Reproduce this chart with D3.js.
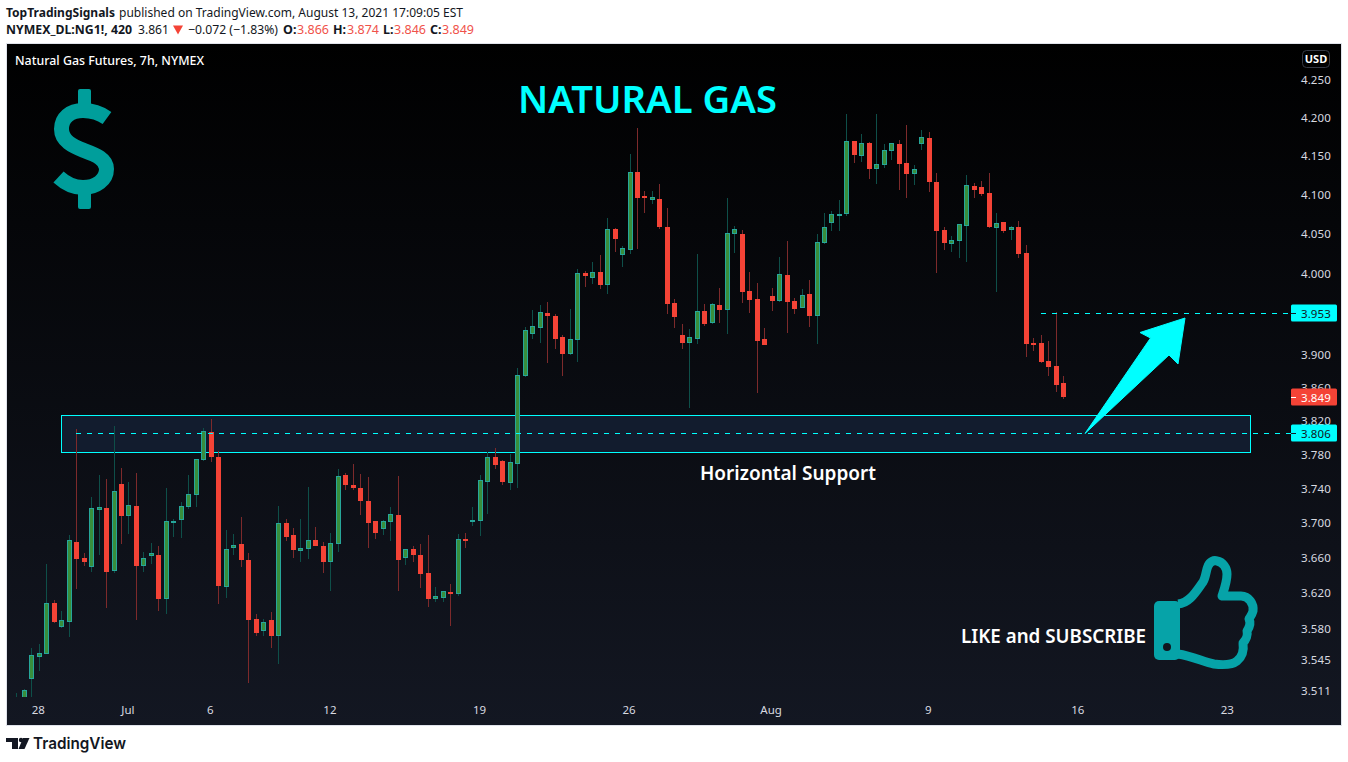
<!DOCTYPE html>
<html><head><meta charset="utf-8">
<script src="https://cdn.jsdelivr.net/npm/d3@7/dist/d3.min.js"></script>
<style>html,body{margin:0;padding:0;background:#fff;overflow:hidden}svg{display:block}text{font-family:"Noto Sans",sans-serif}</style>
</head><body><svg id="c" width="1348" height="762"></svg>
<script>
const open=[3.501,3.501,3.524,3.549,3.552,3.609,3.582,3.587,3.678,3.660,3.650,3.715,3.718,3.645,3.746,3.708,3.720,3.651,3.662,3.664,3.613,3.702,3.704,3.719,3.733,3.774,3.807,3.778,3.627,3.672,3.676,3.658,3.591,3.578,3.590,3.572,3.700,3.686,3.668,3.670,3.681,3.674,3.656,3.676,3.756,3.745,3.741,3.726,3.703,3.693,3.701,3.710,3.660,3.670,3.664,3.643,3.614,3.615,3.621,3.619,3.682,3.703,3.703,3.748,3.777,3.773,3.747,3.769,3.874,3.926,3.933,3.952,3.948,3.922,3.901,3.918,4.001,3.995,4.002,3.986,4.057,4.024,4.030,4.130,4.099,4.094,4.095,4.059,3.964,3.924,3.915,3.920,3.954,3.939,3.961,3.955,4.050,4.050,3.979,3.969,3.920,3.973,3.966,3.999,3.966,3.958,3.975,3.948,4.039,4.064,4.073,4.076,4.170,4.150,4.167,4.133,4.139,4.157,4.166,4.141,4.127,4.166,4.174,4.117,4.055,4.038,4.041,4.060,4.112,4.110,4.102,4.058,4.066,4.055,4.059,4.026,3.915,3.915,3.892,3.886,3.866];
const high=[3.509,3.513,3.559,3.563,3.653,3.612,3.600,3.686,3.811,3.666,3.731,3.756,3.752,3.814,3.764,3.748,3.759,3.667,3.677,3.674,3.741,3.705,3.725,3.756,3.775,3.812,3.823,3.785,3.692,3.688,3.707,3.666,3.597,3.591,3.599,3.720,3.705,3.695,3.705,3.742,3.696,3.678,3.689,3.763,3.759,3.769,3.757,3.754,3.703,3.704,3.719,3.755,3.670,3.674,3.676,3.686,3.627,3.623,3.630,3.688,3.689,3.719,3.756,3.783,3.788,3.774,3.781,3.884,3.934,3.955,3.961,3.965,3.950,3.924,3.956,4.006,4.004,4.015,4.024,4.071,4.058,4.035,4.153,4.187,4.105,4.105,4.114,4.083,3.969,3.938,3.932,4.025,3.963,3.964,3.983,4.096,4.060,4.055,4.002,3.989,3.933,3.983,4.021,4.041,3.970,3.981,3.993,4.050,4.077,4.080,4.093,4.205,4.170,4.179,4.168,4.205,4.166,4.167,4.171,4.191,4.139,4.184,4.182,4.128,4.059,4.048,4.063,4.126,4.115,4.118,4.128,4.077,4.066,4.060,4.067,4.036,3.921,3.924,3.917,3.953,3.874];
const low=[3.499,3.499,3.504,3.533,3.552,3.586,3.581,3.571,3.625,3.651,3.644,3.663,3.603,3.643,3.676,3.688,3.590,3.644,3.653,3.600,3.597,3.684,3.683,3.717,3.719,3.773,3.771,3.608,3.615,3.664,3.650,3.520,3.572,3.572,3.558,3.541,3.679,3.660,3.656,3.659,3.674,3.643,3.622,3.667,3.739,3.739,3.710,3.672,3.682,3.686,3.679,3.623,3.652,3.656,3.626,3.604,3.610,3.610,3.583,3.617,3.672,3.697,3.685,3.711,3.763,3.745,3.739,3.741,3.873,3.920,3.915,3.890,3.907,3.874,3.900,3.891,3.984,3.988,3.981,3.975,4.028,4.009,4.025,4.031,4.077,4.089,4.057,3.950,3.933,3.907,3.836,3.913,3.936,3.938,3.939,3.926,4.026,3.964,3.952,3.854,3.912,3.954,3.965,3.927,3.950,3.958,3.934,3.913,4.038,4.054,4.054,4.073,4.141,4.143,4.120,4.114,4.135,4.145,4.106,4.096,4.113,4.158,4.104,4.001,4.030,4.028,4.020,4.015,4.096,4.099,4.058,3.978,4.052,4.043,4.020,3.898,3.905,3.890,3.874,3.855,3.846];
const close=[3.503,3.512,3.551,3.553,3.609,3.588,3.590,3.681,3.659,3.656,3.718,3.719,3.644,3.738,3.708,3.721,3.651,3.660,3.666,3.614,3.703,3.703,3.720,3.734,3.775,3.808,3.778,3.628,3.670,3.675,3.658,3.590,3.575,3.588,3.572,3.700,3.684,3.669,3.671,3.681,3.674,3.656,3.677,3.755,3.745,3.741,3.726,3.700,3.689,3.703,3.711,3.658,3.670,3.663,3.642,3.613,3.617,3.622,3.619,3.682,3.679,3.704,3.750,3.777,3.768,3.748,3.771,3.876,3.931,3.936,3.953,3.948,3.920,3.901,3.920,4.001,3.998,4.002,3.986,4.057,4.044,4.033,4.130,4.096,4.096,4.097,4.059,3.963,3.947,3.915,3.922,3.954,3.938,3.963,3.955,4.052,4.057,3.978,3.968,3.917,3.912,3.966,4.000,3.965,3.956,3.974,3.948,4.040,4.059,4.076,4.076,4.170,4.152,4.167,4.133,4.140,4.158,4.167,4.140,4.127,4.133,4.175,4.117,4.054,4.039,4.043,4.063,4.113,4.106,4.101,4.059,4.064,4.054,4.059,4.025,3.913,3.912,3.891,3.885,3.864,3.849];
const priceTicks=[4.25,4.2,4.15,4.1,4.05,4,3.9,3.86,3.82,3.78,3.74,3.7,3.66,3.62,3.58,3.545,3.511];
const timeTickIndex=[3,15,26,42,62,82,101,122,142,162];
const timeTickLabels=["28","Jul","6","12","19","26","Aug","9","16","23"];
const supportBand=[3.827,3.783];
const supportLevel=3.806,targetLevel=3.952,lastClose=3.849;

const svg=d3.select("#c");
const W=1348,H=762;
const defs=svg.append("defs");
const g=defs.append("linearGradient").attr("id","bg").attr("x1",0).attr("x2",0).attr("y1",0).attr("y2",1);
g.append("stop").attr("offset","0").attr("stop-color","#000000");
g.append("stop").attr("offset","1").attr("stop-color","#131722");
defs.append("clipPath").attr("id","pane").append("rect").attr("x",7).attr("y",44).attr("width",1284).attr("height",653);

svg.append("rect").attr("width",W).attr("height",H).attr("fill","#fff");
svg.append("rect").attr("x",6.5).attr("y",43.5).attr("width",1335).attr("height",682).attr("fill","url(#bg)").attr("stroke","#e0e3eb");

const x=d3.scaleLinear().domain([0,140]).range([16.3,1063.3]);
const y=d3.scaleLog().domain([3.511,4.25]).range([691,80]);
const px=v=>Math.round(v);

function t(sel,s,X,Y,o={}){const e=sel.append("text").attr("x",X).attr("y",Y).text(s)
 .attr("font-size",o.size||12.5).attr("fill",o.fill||"#131722").attr("font-weight",o.w||400);
 if(o.font)e.style("font-family",o.font);if(o.anchor)e.attr("text-anchor",o.anchor);if(o.ls)e.attr("letter-spacing",o.ls);if(o.len)e.attr("textLength",o.len).attr("lengthAdjust","spacingAndGlyphs");return e;}
const hdr=svg.append("g");
t(hdr,"TopTradingSignals",6,17,{w:700,len:109});
t(hdr,"published on TradingView.com, August 13, 2021 17:09:05 EST",119,17,{len:344});
t(hdr,"NYMEX_DL:NG1!, 420",6,34,{w:700,len:126});
t(hdr,"3.861",138,34,{len:31});
hdr.append("path").attr("d","M173 25.5H183L178 34.5Z").attr("fill","#f44336");
t(hdr,"−0.072 (−1.83%)",188,34,{len:90});
[["O:",283,"3.866",297],["H:",333,"3.874",347],["L:",383,"3.846",394],["C:",430,"3.849",442]].forEach(a=>{
 t(hdr,a[0],a[1],34,{w:700});t(hdr,a[2],a[3],34,{fill:"#f0524a",len:32});});

const band=svg.append("g");
band.append("rect").attr("x",61.5).attr("y",px(y(supportBand[0]))+.5).attr("width",1189).attr("height",px(y(supportBand[1]))-px(y(supportBand[0])))
 .attr("fill","#121c2e").attr("stroke","#00ffff");

const idx=d3.range(open.length);
const up=i=>close[i]>=open[i];
const cg=svg.append("g").attr("clip-path","url(#pane)");
cg.selectAll("rect.w").data(idx).join("rect").attr("class","w")
 .attr("x",i=>px(x(i))).attr("width",1).attr("y",i=>px(y(high[i]))).attr("height",i=>Math.max(1,px(y(low[i]))-px(y(high[i]))))
 .attr("fill",i=>up(i)?"#0e4f49":"#7d2a2b");
cg.selectAll("rect.b").data(idx).join("rect").attr("class","b")
 .attr("x",i=>px(x(i))-2+.5).attr("width",4)
 .attr("y",i=>px(y(Math.max(open[i],close[i])))+.5)
 .attr("height",i=>Math.max(1,px(y(Math.min(open[i],close[i])))-px(y(Math.max(open[i],close[i])))-1))
 .attr("fill",i=>up(i)?"#388e3c":"#f44336")
 .attr("stroke",i=>up(i)?"#26a69a":"#f44336");

const lv=svg.append("g").attr("stroke","#00ffff").attr("stroke-dasharray","5 6");
lv.append("line").attr("x1",76).attr("x2",1291).attr("y1",px(y(supportLevel))+.5).attr("y2",px(y(supportLevel))+.5);
lv.append("line").attr("x1",1041).attr("x2",1291).attr("y1",px(y(targetLevel))+.5).attr("y2",px(y(targetLevel))+.5);

const axisFont='"Noto Sans",sans-serif';
const ay=d3.axisRight(y).tickValues(priceTicks).tickFormat(d3.format(".3f")).tickSize(0).tickPadding(0);
const ag=svg.append("g").attr("transform","translate(1301,0)").call(ay);
ag.select(".domain").remove();
ag.selectAll("text").attr("fill","#d8dae0").attr("font-size",11.5).style("font-family",axisFont).attr("letter-spacing",.1);
const ax=d3.axisBottom(x).tickValues(timeTickIndex).tickFormat((d,i)=>timeTickLabels[i]).tickSize(0).tickPadding(0);
const xg=svg.append("g").attr("transform","translate(-1,706)").call(ax);
xg.select(".domain").remove();
xg.selectAll("text").attr("fill","#d8dae0").attr("font-size",11.5).style("font-family",axisFont);

function tag(v,txt,bg,fg){
 const cy=px(y(v));
 const gg=svg.append("g");
 gg.append("rect").attr("x",1291).attr("y",cy-8.5).attr("width",46).attr("height",17).attr("rx",1.5).attr("fill",bg);
 gg.append("rect").attr("x",1291).attr("y",cy).attr("width",5).attr("height",1).attr("fill",fg);
 gg.append("text").attr("x",1301).attr("y",cy+4.5).text(txt).attr("fill",fg).attr("font-size",11.5).attr("letter-spacing",.1).style("font-family",axisFont);
}
tag(targetLevel,"3.953","#00ffff","#131722");
tag(lastClose,"3.849","#f44336","#ffffff");
tag(supportLevel,"3.806","#00ffff","#131722");

svg.append("rect").attr("x",1302.5).attr("y",50.5).attr("width",27).attr("height",17).attr("rx",4).attr("fill","none").attr("stroke","#363a45");
t(svg,"USD",1316,63,{size:11,fill:"#ffffff",anchor:"middle",w:700});

t(svg,"Natural Gas Futures, 7h, NYMEX",15,65,{size:12.5,fill:"#fff",w:500,len:189});
t(svg,"NATURAL GAS",518,113,{size:38,fill:"#00ffff",w:600,len:259});
t(svg,"Horizontal Support",700,480,{size:19,fill:"#fff",w:600,len:176});
t(svg,"LIKE and SUBSCRIBE",961,643,{size:19,fill:"#fff",w:600,len:185});

svg.append("path").attr("d","M1085 433.5L1150.5 338L1140 332.5L1185 318L1178 364L1169 355Z").attr("fill","#00ffff").attr("stroke","#00ffff").attr("stroke-linejoin","round").attr("stroke-width",1);

const teal="#009e9b";
const dg=svg.append("g");
dg.append("path").attr("d","M107 118C100 113 92 110.5 83 110.5C70 110.5 61.5 118 61.5 129C61.5 141 73 146 84 150.5C96 155 106.5 159 106.5 169C106.5 180 96 187.5 83 187.5C74 187.5 65 183 58.5 177").attr("fill","none").attr("stroke",teal).attr("stroke-width",15);
dg.append("rect").attr("x",78).attr("y",89).attr("width",13).attr("height",18).attr("rx",2).attr("fill",teal);
dg.append("rect").attr("x",78).attr("y",190).attr("width",13).attr("height",19).attr("rx",2).attr("fill",teal);

const thumbTeal="#06a3a8";
const tg=svg.append("g");
tg.append("rect").attr("x",1154).attr("y",601).attr("width",26).attr("height",59).attr("rx",5).attr("fill",thumbTeal);
tg.append("circle").attr("cx",1167).attr("cy",647).attr("r",4).attr("fill","#11151f");
tg.append("path").attr("d","M1178 604C1190 603 1197 590 1203 582C1206 577 1206 570 1208 566C1210 561 1214 560 1217 561C1223 562 1227 568 1227 574C1227 582 1224 590 1222 596L1241 596C1249 596 1254 604 1253 611C1252 615 1250 617 1249 619C1251 623 1249 628 1247 631C1248 635 1246 640 1243 643C1244 650 1242 657 1237 661C1232 665 1222 665 1214 664C1204 662 1192 656 1178 654").attr("fill","none").attr("stroke",thumbTeal).attr("stroke-width",9).attr("stroke-linejoin","round");

const lg=svg.append("g").attr("fill","#131722");
lg.append("path").attr("d","M6 738H18V749H12V742H6Z");
lg.append("circle").attr("cx",21).attr("cy",740).attr("r",2.2);
lg.append("path").attr("d","M23 738H29.5L24.5 749H18.5Z");
t(svg,"TradingView",33,749,{size:16.5,w:600,len:93,fill:"#131722",font:'Inter,"Noto Sans",sans-serif'});
</script></body></html>
